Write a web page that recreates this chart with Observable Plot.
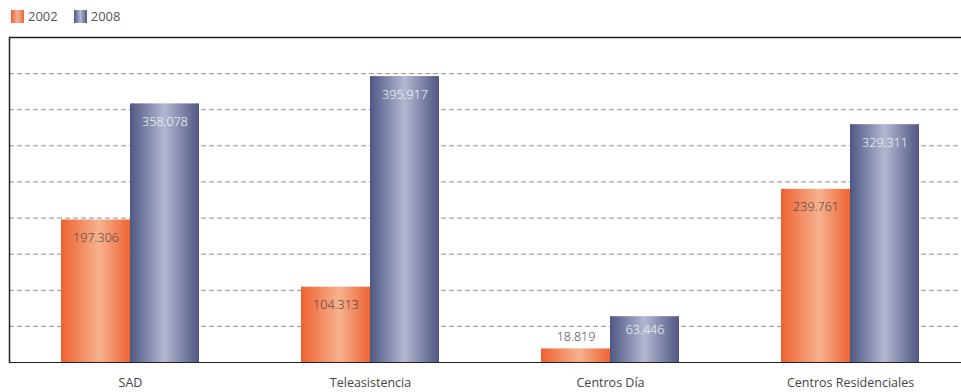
<!DOCTYPE html>
<html>
<head>
<meta charset="utf-8">
<script src="https://cdn.jsdelivr.net/npm/d3@7"></script>
<script src="https://cdn.jsdelivr.net/npm/@observablehq/plot@0.6"></script>
<style>
  html, body { margin: 0; padding: 0; background: #fff; }
  body { width: 961px; height: 392px; overflow: hidden; font-family: "Open Sans", "DejaVu Sans", sans-serif; }
  #legend { height: 26px; display: flex; align-items: center; padding-left: 11px; font-size: 13px; color: #555; box-sizing: border-box; padding-top: 6px; }
  .sw { display: inline-block; width: 13px; height: 13px; margin-right: 4px; }
  .item { display: inline-flex; align-items: center; margin-right: 16px; }
  svg { display: block; }
</style>
</head>
<body>
<div id="legend"></div>
<div id="chart"></div>
<script>
const categories = ["SAD", "Teleasistencia", "Centros Día", "Centros Residenciales"];
const years = ["2002", "2008"];
const values2002 = [197306, 104313, 18819, 239761];
const values2008 = [358078, 395917, 63446, 329311];
const gridTicks = [50000, 100000, 150000, 200000, 250000, 300000, 350000, 400000];
const yMax = 450000;

const grad = {
  "2002": ["#ED6131", "#F7B28F", "#ED6434"],
  "2008": ["#4E5783", "#B4B7D1", "#4F5884"]
};

const esFmt = d3.formatLocale({decimal: ",", thousands: ".", grouping: [3], currency: ["", "€"]}).format(",d");

const rows = [];
categories.forEach((c, i) => {
  rows.push({cat: c, year: "2002", value: values2002[i]});
  rows.push({cat: c, year: "2008", value: values2008[i]});
});

// legend
const legend = document.getElementById("legend");
years.forEach(y => {
  const it = document.createElement("span");
  it.className = "item";
  const sw = document.createElement("span");
  sw.className = "sw";
  sw.style.background = `linear-gradient(to right, ${grad[y][0]}, ${grad[y][1]} 50%, ${grad[y][2]})`;
  it.appendChild(sw);
  it.appendChild(document.createTextNode(y));
  legend.appendChild(it);
});

const W = 961, H = 366;
const bandW = 138;
const half = bandW / 2;

const labelDy = v => v < 30000 ? -12 : (v < 80000 ? 13 : 18);

const chart = Plot.plot({
  width: W,
  height: H,
  marginLeft: 9,
  marginRight: 0,
  marginTop: 11,
  marginBottom: 30,
  style: {fontFamily: "Open Sans, DejaVu Sans, sans-serif", background: "#fff"},
  x: {domain: categories, range: [10, 970], paddingInner: 0.425, paddingOuter: 0.2125, label: null},
  y: {domain: [0, yMax], axis: null},
  marks: [
    Plot.ruleY(gridTicks, {stroke: "#8f8f8f", strokeDasharray: "5,3", strokeWidth: 1}),
    Plot.barY(rows.filter(d => d.year === "2002"), {x: "cat", y: "value", fill: "url(#g2002)", insetRight: half}),
    Plot.barY(rows.filter(d => d.year === "2008"), {x: "cat", y: "value", fill: "url(#g2008)", insetLeft: half}),
    Plot.ruleY([yMax], {stroke: "#222", strokeWidth: 1.5}),
    Plot.ruleY([0], {stroke: "#222", strokeWidth: 1.2}),
    Plot.frame({anchor: "left", stroke: "#222", strokeWidth: 1.5}),
    ...rows.map(d => Plot.text([d], {
      x: "cat", y: "value",
      text: r => esFmt(r.value),
      dx: d.year === "2002" ? -half / 2 : half / 2,
      dy: labelDy(d.value),
      fill: d.year === "2008" ? "#ffffff" : "#3a3a3a",
      fontSize: 12.5,
      fontWeight: 300
    })),
    Plot.axisX({tickSize: 0, tickPadding: 16, fontSize: 12.5, fill: "#444", label: null})
  ]
});

// gradients
const ns = "http://www.w3.org/2000/svg";
const defs = document.createElementNS(ns, "defs");
years.forEach(y => {
  const lg = document.createElementNS(ns, "linearGradient");
  lg.setAttribute("id", "g" + y);
  lg.setAttribute("x1", "0"); lg.setAttribute("x2", "1");
  lg.setAttribute("y1", "0"); lg.setAttribute("y2", "0");
  [[0, grad[y][0]], [y === "2002" ? 0.55 : 0.5, grad[y][1]], [1, grad[y][2]]].forEach(([o, c]) => {
    const s = document.createElementNS(ns, "stop");
    s.setAttribute("offset", o);
    s.setAttribute("stop-color", c);
    lg.appendChild(s);
  });
  defs.appendChild(lg);
});
chart.insertBefore(defs, chart.firstChild);
document.getElementById("chart").appendChild(chart);
</script>
</body>
</html>
